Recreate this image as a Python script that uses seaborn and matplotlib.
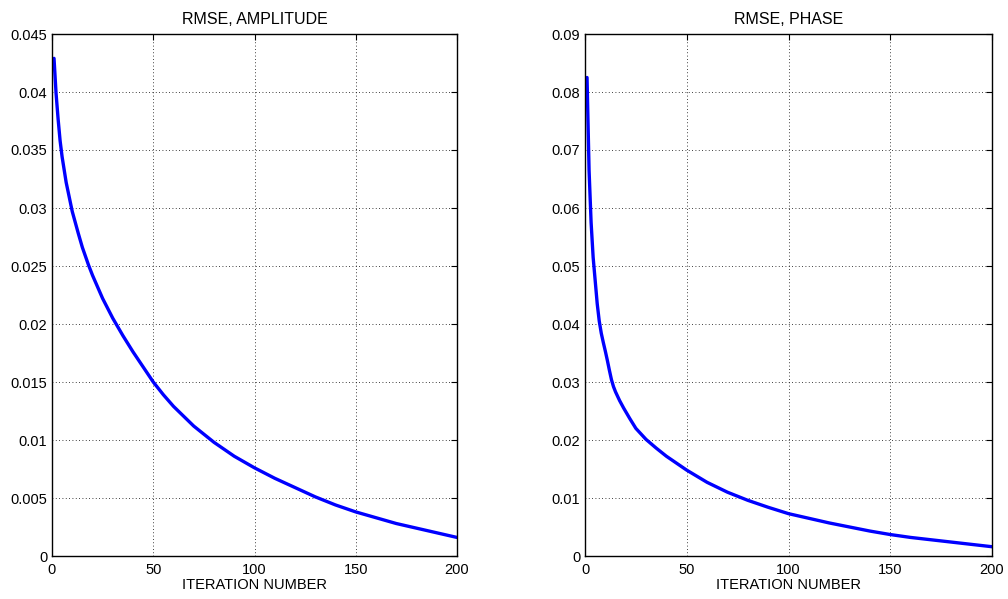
import matplotlib
matplotlib.use("Agg")
import matplotlib.pyplot as plt
import pandas as pd
import seaborn as sns

# ── data ───────────────────────────────────────────────────────────────────
amp_iter = [1, 2, 3, 4, 5, 7, 10, 13, 15, 18, 20, 25, 30, 35, 40, 45, 50,
            55, 60, 70, 80, 90, 100, 110, 120, 130, 140, 150, 160, 170,
            180, 190, 200]
amp_rmse = [0.0429, 0.0399, 0.0377, 0.0358, 0.0344, 0.0322, 0.0297, 0.0278,
            0.0266, 0.0251, 0.0242, 0.0222, 0.0205, 0.0190, 0.0176, 0.0163,
            0.0150, 0.0139, 0.0129, 0.0112, 0.0098, 0.0086, 0.0076, 0.0067,
            0.0059, 0.0051, 0.0044, 0.0038, 0.0033, 0.0028, 0.0024, 0.0020,
            0.0016]

phase_iter = [1, 2, 3, 4, 5, 6, 7, 8, 9, 10, 11, 12, 13, 14, 15, 17, 19, 22,
              25, 30, 35, 40, 45, 50, 60, 70, 80, 90, 100, 110, 120, 130,
              140, 150, 160, 170, 180, 190, 200]
phase_rmse = [0.0825, 0.0665, 0.0575, 0.0515, 0.0475, 0.0435, 0.0405, 0.0384,
              0.0368, 0.0353, 0.0337, 0.0320, 0.0304, 0.0292, 0.0283, 0.0268,
              0.0255, 0.0237, 0.0220, 0.0201, 0.0186, 0.0172, 0.0160, 0.0148,
              0.0127, 0.0110, 0.0096, 0.0084, 0.0073, 0.0065, 0.0057, 0.0050,
              0.0043, 0.0037, 0.0032, 0.0028, 0.0024, 0.0020, 0.0016]

x_ticks = [0, 50, 100, 150, 200]
amp_yticks = [0, 0.005, 0.01, 0.015, 0.02, 0.025, 0.03, 0.035, 0.04, 0.045]
amp_ylabels = ["0", "0.005", "0.01", "0.015", "0.02", "0.025", "0.03",
               "0.035", "0.04", "0.045"]
phase_yticks = [0, 0.01, 0.02, 0.03, 0.04, 0.05, 0.06, 0.07, 0.08, 0.09]
phase_ylabels = ["0", "0.01", "0.02", "0.03", "0.04", "0.05", "0.06",
                 "0.07", "0.08", "0.09"]

sns.set_theme(style="white")
plt.rcParams["font.family"] = ["Liberation Sans", "DejaVu Sans"]
plt.rcParams["xtick.direction"] = "in"
plt.rcParams["ytick.direction"] = "in"
plt.rcParams["text.color"] = "black"
plt.rcParams["axes.labelcolor"] = "black"

fig = plt.figure(figsize=(10.08, 5.99), dpi=100)
ax1 = fig.add_axes([52 / 1008, 43 / 599, 405 / 1008, 522 / 599])
ax2 = fig.add_axes([585 / 1008, 43 / 599, 407 / 1008, 522 / 599])

panels = [
    (ax1, amp_iter, amp_rmse, "RMSE, AMPLITUDE", amp_yticks, amp_ylabels, 0.045),
    (ax2, phase_iter, phase_rmse, "RMSE, PHASE", phase_yticks, phase_ylabels, 0.09),
]

for ax, xs, ys, title, yt, ytl, ymax in panels:
    df = pd.DataFrame({"iteration": xs, "rmse": ys})
    sns.lineplot(data=df, x="iteration", y="rmse", ax=ax,
                 color="#0000ff", linewidth=2.4)
    ax.set_xlim(0, 200)
    ax.set_ylim(0, ymax)
    ax.set_xticks(x_ticks)
    ax.set_xticklabels([str(t) for t in x_ticks])
    ax.set_yticks(yt)
    ax.set_yticklabels(ytl)
    ax.grid(True, color="black", linestyle=(0, (1, 3)), linewidth=0.6)
    ax.tick_params(which="major", length=4, width=0.8, labelsize=10.5,
                   top=True, right=True, colors="black")
    ax.tick_params(axis="x", pad=5)
    ax.tick_params(axis="y", pad=3.5)
    for s in ax.spines.values():
        s.set_color("black")
        s.set_linewidth(1.0)
    ax.set_title(title, fontsize=11.5, pad=7, color="black")
    ax.set_xlabel("ITERATION NUMBER", fontsize=10.5, labelpad=1, color="black")
    ax.set_ylabel("")

fig.savefig("out.png", dpi=100)
